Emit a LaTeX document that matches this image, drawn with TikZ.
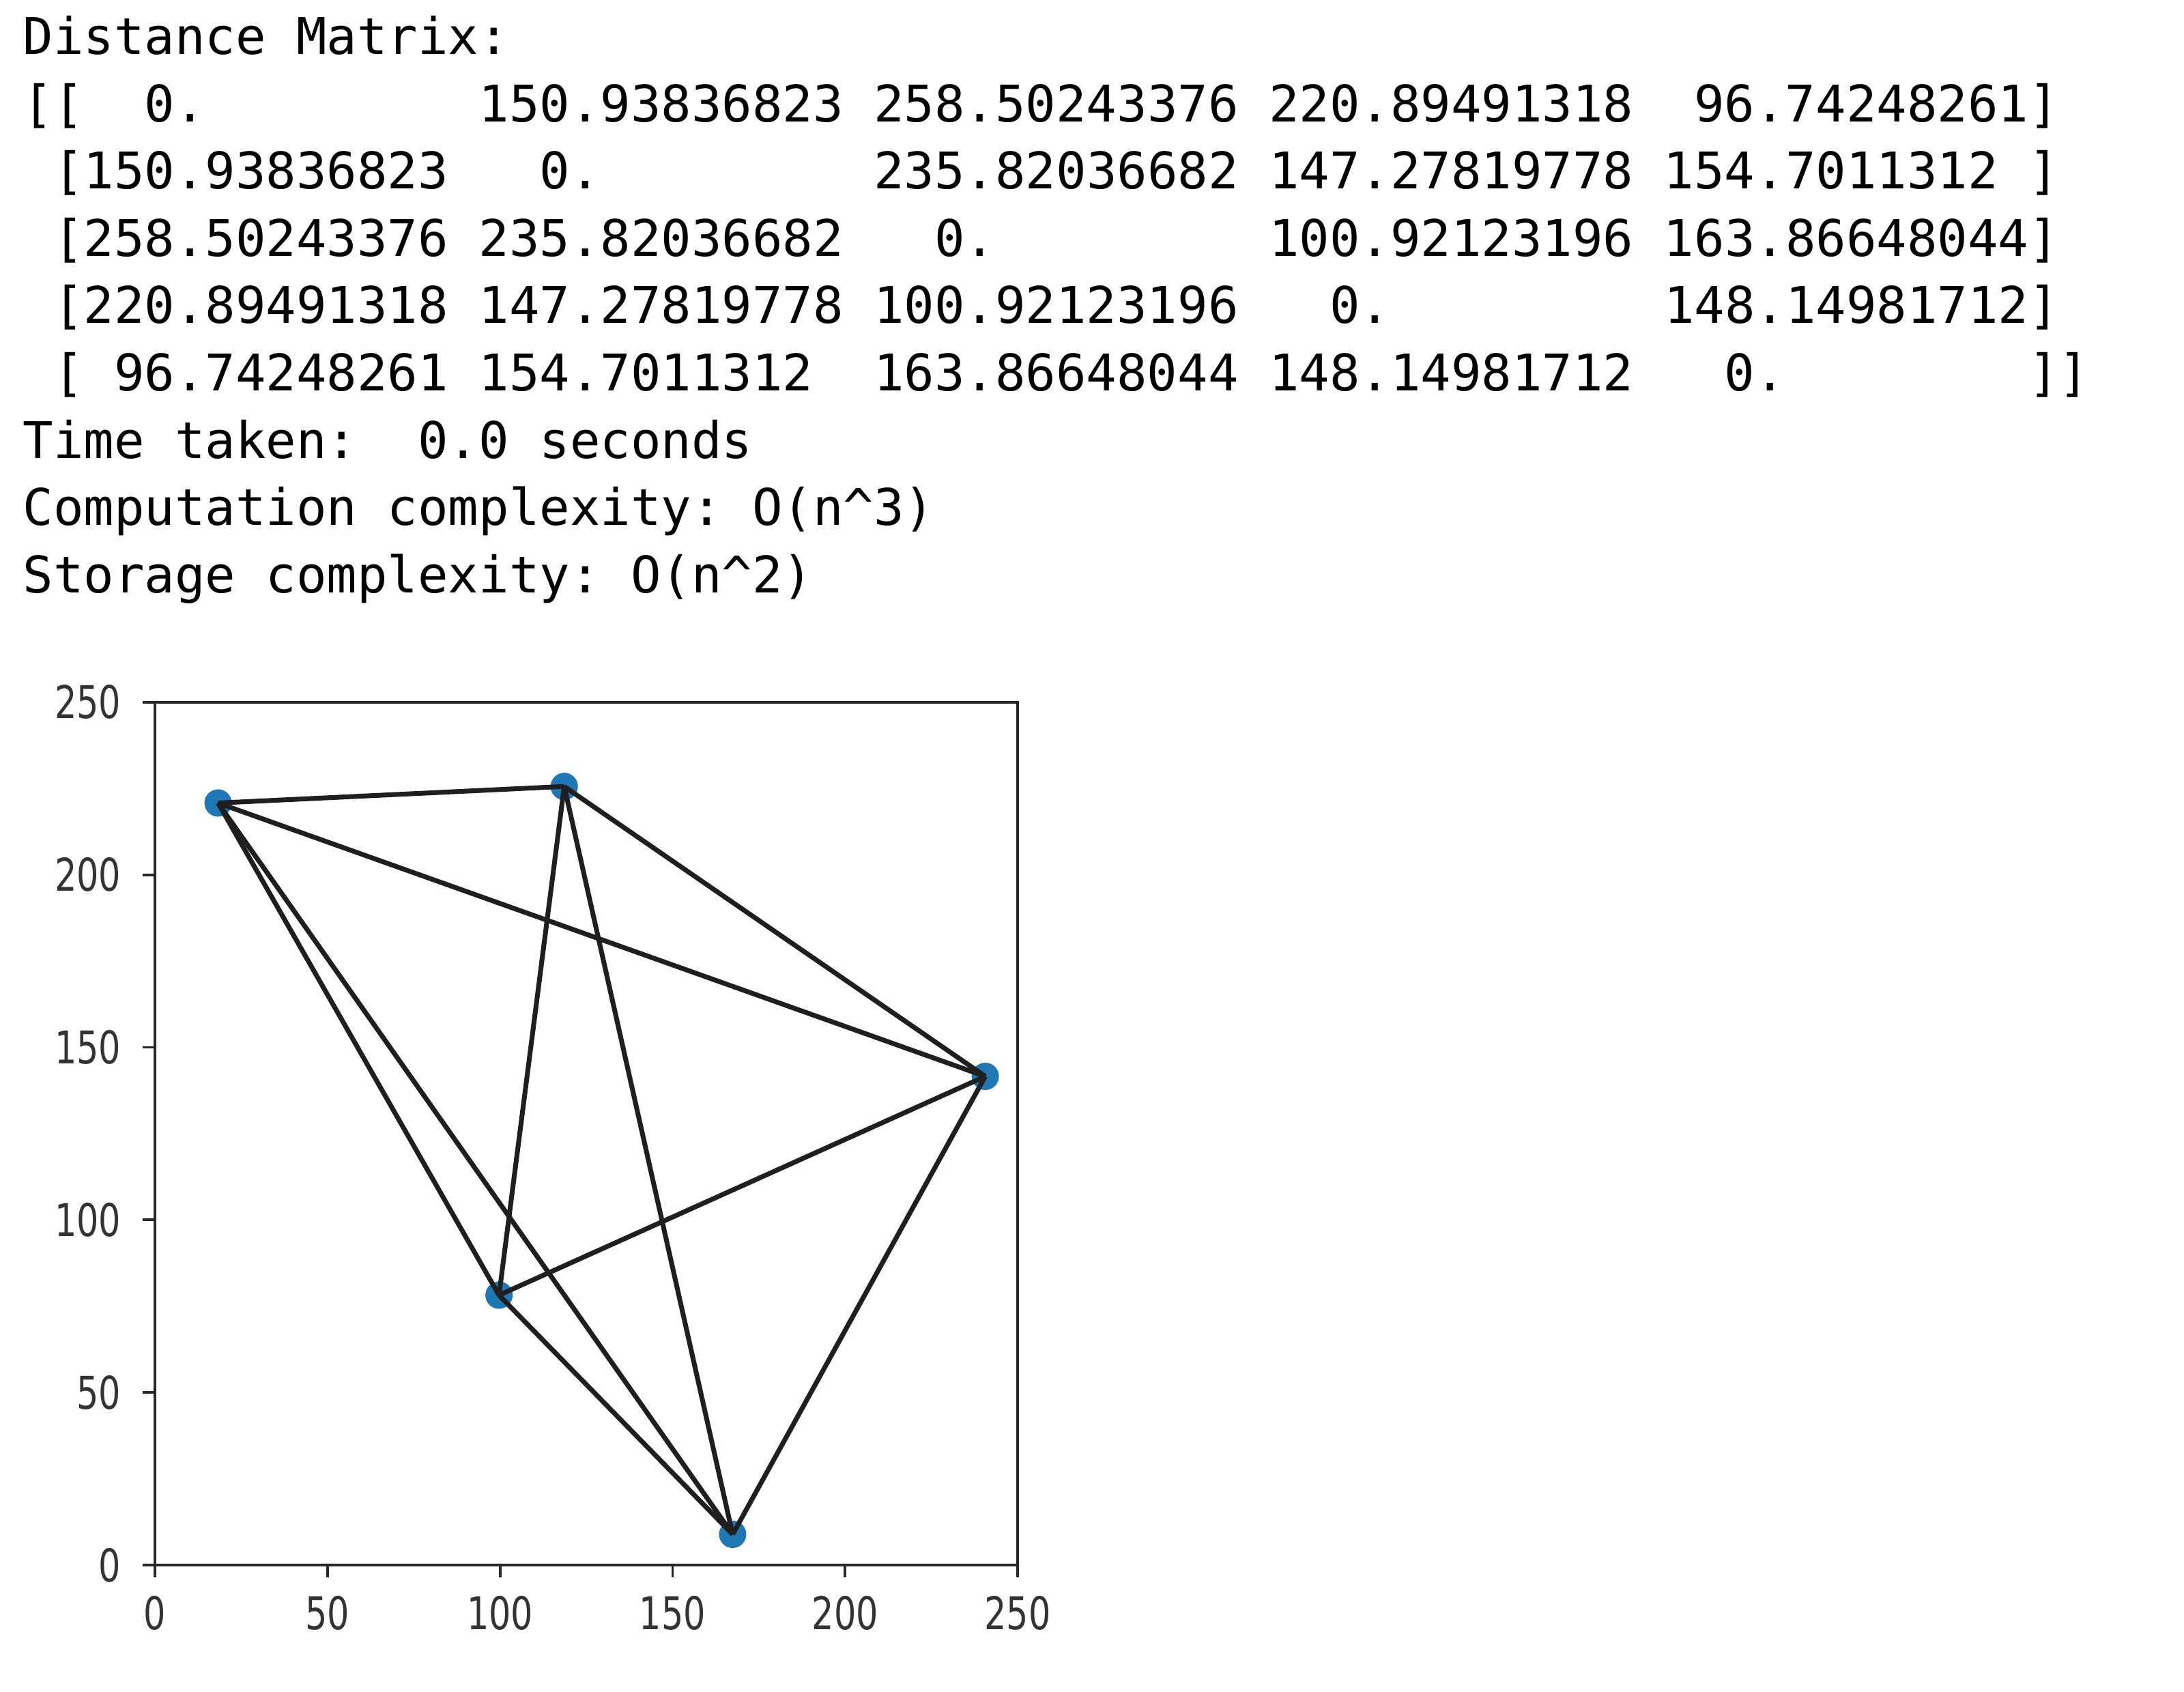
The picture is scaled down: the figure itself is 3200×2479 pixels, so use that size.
\documentclass[tikz,border=0pt]{standalone}
\usepackage{fontspec}
\newfontfamily\monofont{DejaVu Sans Mono}
\newfontfamily\tickfont{DejaVu Sans}[FakeStretch=0.77]
\definecolor{mplblue}{HTML}{1F77B4}
\begin{document}
\begin{tikzpicture}[x=0.01cm,y=-0.01cm,
  txt/.style={anchor=base west, inner sep=0pt, font=\monofont\fontsize{21.03pt}{25pt}\selectfont\frenchspacing},
  spine/.style={line width=1.1pt, black!85},
  edge/.style={line width=2pt, black!88},
  dot/.style={circle, fill=mplblue, draw=none, minimum size=0.4cm, inner sep=0pt},
  ticklab/.style={inner sep=0pt, text=black!80, font=\tickfont\fontsize{18.8pt}{20pt}\selectfont}]
\fill[white] (0,0) rectangle (3200,2479);
\useasboundingbox (0,0) rectangle (3200,2479);
% console text
\node[txt] (t1) at (33,80) {Distance Matrix:};
\node[txt] (t2) at (33,178.5) {[[~~0.~~~~~~~~~150.93836823~258.50243376~220.89491318~~96.74248261]};
\node[txt] (t3) at (33,277) {~[150.93836823~~~0.~~~~~~~~~235.82036682~147.27819778~154.7011312~]};
\node[txt] (t4) at (33,375.5) {~[258.50243376~235.82036682~~~0.~~~~~~~~~100.92123196~163.86648044]};
\node[txt] (t5) at (33,474) {~[220.89491318~147.27819778~100.92123196~~~0.~~~~~~~~~148.14981712]};
\node[txt] (t6) at (33,572.5) {~[~96.74248261~154.7011312~~163.86648044~148.14981712~~~0.~~~~~~~~]]};
\node[txt] (t7) at (33,671) {Time taken:~~0.0 seconds};
\node[txt] (t8) at (33,769.5) {Computation complexity: O(n\textasciicircum 3)};
\node[txt] (t9) at (33,868) {Storage complexity: O(n\textasciicircum 2)};
% plot
\begin{scope}[shift={(227,2293)}, x=0.05053cm, y=0.05053cm]
  \foreach \v in {0,50,...,250} {
    \draw[spine] (\v,0) -- ++(0,-0.18cm);
    \draw[spine] (0,\v) -- ++(-0.18cm,0);
    \node[ticklab, anchor=north] (xl\v) at ([yshift=-0.45cm]\v,0) {\v};
    \node[ticklab, anchor=east] (yl\v) at ([xshift=-0.49cm]0,\v) {\v};
  }
  \draw[spine] (0,0) rectangle (250,250);
  \node[dot] (A) at (18.3,220.8) {};
  \node[dot] (B) at (118.6,225.6) {};
  \node[dot] (C) at (240.6,141.6) {};
  \node[dot] (D) at (99.7,78.2) {};
  \node[dot] (E) at (167.4,8.9) {};
  \foreach \a/\b in {A/B,A/C,A/D,A/E,B/C,B/D,B/E,C/D,C/E,D/E}
    \draw[edge] (\a.center) -- (\b.center);
\end{scope}
\end{tikzpicture}
\end{document}
